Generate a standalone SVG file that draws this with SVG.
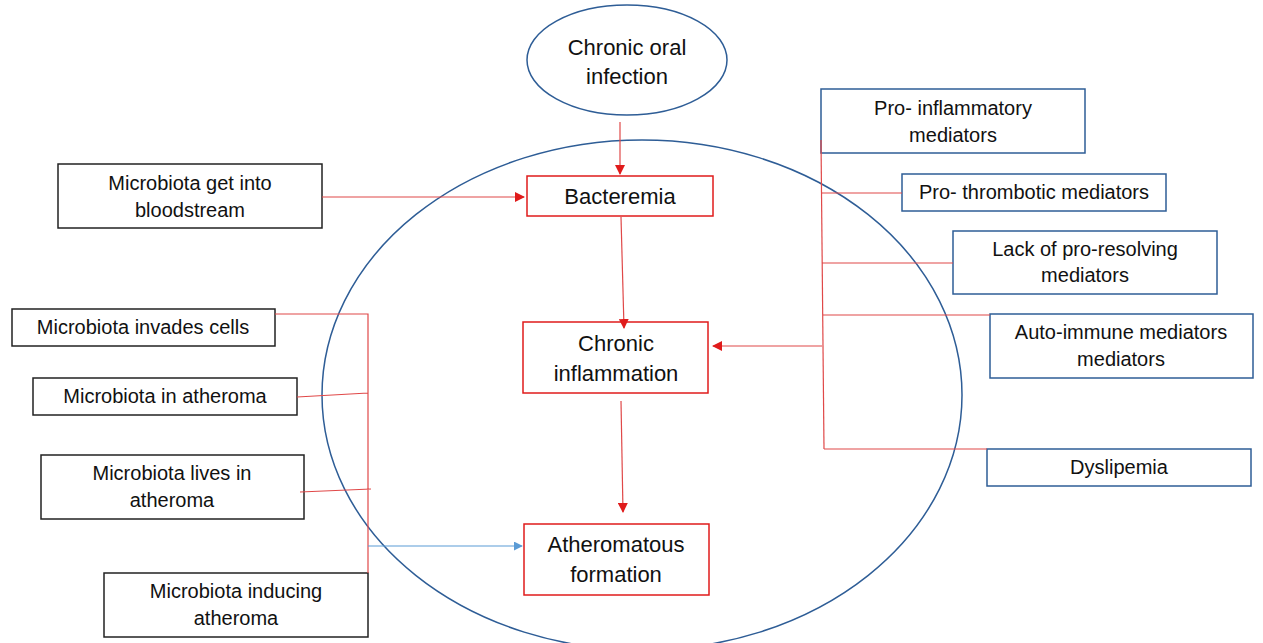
<svg xmlns="http://www.w3.org/2000/svg" width="1263" height="643" viewBox="0 0 1263 643">
<style>
text{font-family:"Liberation Sans",Arial,sans-serif;fill:#111;text-anchor:middle}
.side{font-size:20px}
.main{font-size:22px}
.bk{fill:#fff;stroke:#222;stroke-width:1.5}
.bl{fill:#fff;stroke:#2e5d96;stroke-width:1.5}
.rd{fill:#fff;stroke:#e01b1b;stroke-width:1.5}
.cr{fill:none;stroke:#e04848;stroke-width:1.2}
.cb{fill:none;stroke:#5b9bd5;stroke-width:1.2}
</style>
<defs>
<marker id="ar" viewBox="0 0 10 10" refX="9" refY="5" markerWidth="10" markerHeight="10" markerUnits="userSpaceOnUse" orient="auto"><path d="M0,0L10,5L0,10z" fill="#e01b1b"/></marker>
<marker id="ab" viewBox="0 0 10 10" refX="9" refY="5" markerWidth="9" markerHeight="9" markerUnits="userSpaceOnUse" orient="auto"><path d="M0,0L10,5L0,10z" fill="#5b9bd5"/></marker>
</defs>
<rect width="1263" height="643" fill="#fff"/>
<ellipse id="outer" cx="642" cy="395" rx="320" ry="255" fill="none" stroke="#2e5d96" stroke-width="1.5"/>
<g id="n-oral"><ellipse class="bl" cx="627" cy="60" rx="100" ry="55"/><text class="main" x="627" y="55">Chronic oral</text><text class="main" x="627" y="84">infection</text></g>
<g id="n-bacteremia"><rect class="rd" x="527" y="176" width="186" height="40"/><text class="main" x="620" y="204">Bacteremia</text></g>
<g id="n-inflammation"><rect class="rd" x="523" y="322" width="185" height="71"/><text class="main" x="616" y="351">Chronic</text><text class="main" x="616" y="381">inflammation</text></g>
<g id="n-atheromatous"><rect class="rd" x="524" y="524" width="185" height="71"/><text class="main" x="616" y="552">Atheromatous</text><text class="main" x="616" y="582">formation</text></g>
<g id="n-bloodstream"><rect class="bk" x="58" y="164" width="264" height="64"/><text class="side" x="190" y="190">Microbiota get into</text><text class="side" x="190" y="217">bloodstream</text></g>
<g id="n-invades"><rect class="bk" x="12" y="309" width="263" height="37"/><text class="side" x="143" y="334">Microbiota invades cells</text></g>
<g id="n-in"><rect class="bk" x="33" y="378" width="264" height="37"/><text class="side" x="165" y="403">Microbiota in atheroma</text></g>
<g id="n-lives"><rect class="bk" x="41" y="455" width="263" height="64"/><text class="side" x="172" y="480">Microbiota lives in</text><text class="side" x="172" y="507">atheroma</text></g>
<g id="n-inducing"><rect class="bk" x="104" y="573" width="264" height="64"/><text class="side" x="236" y="598">Microbiota inducing</text><text class="side" x="236" y="625">atheroma</text></g>
<g id="n-proinfl"><rect class="bl" x="821" y="89" width="264" height="64"/><text class="side" x="953" y="115">Pro- inflammatory</text><text class="side" x="953" y="142">mediators</text></g>
<g id="n-prothromb"><rect class="bl" x="902" y="174" width="264" height="37"/><text class="side" x="1034" y="199">Pro- thrombotic mediators</text></g>
<g id="n-lack"><rect class="bl" x="953" y="231" width="264" height="63"/><text class="side" x="1085" y="256">Lack of pro-resolving</text><text class="side" x="1085" y="282">mediators</text></g>
<g id="n-auto"><rect class="bl" x="990" y="314" width="263" height="64"/><text class="side" x="1121" y="339">Auto-immune mediators</text><text class="side" x="1121" y="366">mediators</text></g>
<g id="n-dys"><rect class="bl" x="987" y="449" width="264" height="37"/><text class="side" x="1119" y="474">Dyslipemia</text></g>
<g id="connectors">
<path class="cr" d="M620,122L620,174" marker-end="url(#ar)"/>
<path class="cr" d="M322,197L524,197" marker-end="url(#ar)"/>
<path class="cr" d="M621,217L624,328" marker-end="url(#ar)"/>
<path class="cr" d="M621,401L623,512" marker-end="url(#ar)"/>
<path class="cr" d="M821,140L824,449"/>
<path class="cr" d="M821,193L902,193M822,263L953,263M823,315L990,315M824,449L987,449"/>
<path class="cr" d="M822,346L713,346" marker-end="url(#ar)"/>
<path class="cr" d="M275,314L368,314L368,573M297,397L368,393M300,492L371,489"/>
<path class="cb" d="M368,546L522,546" marker-end="url(#ab)"/>
</g>
</svg>
